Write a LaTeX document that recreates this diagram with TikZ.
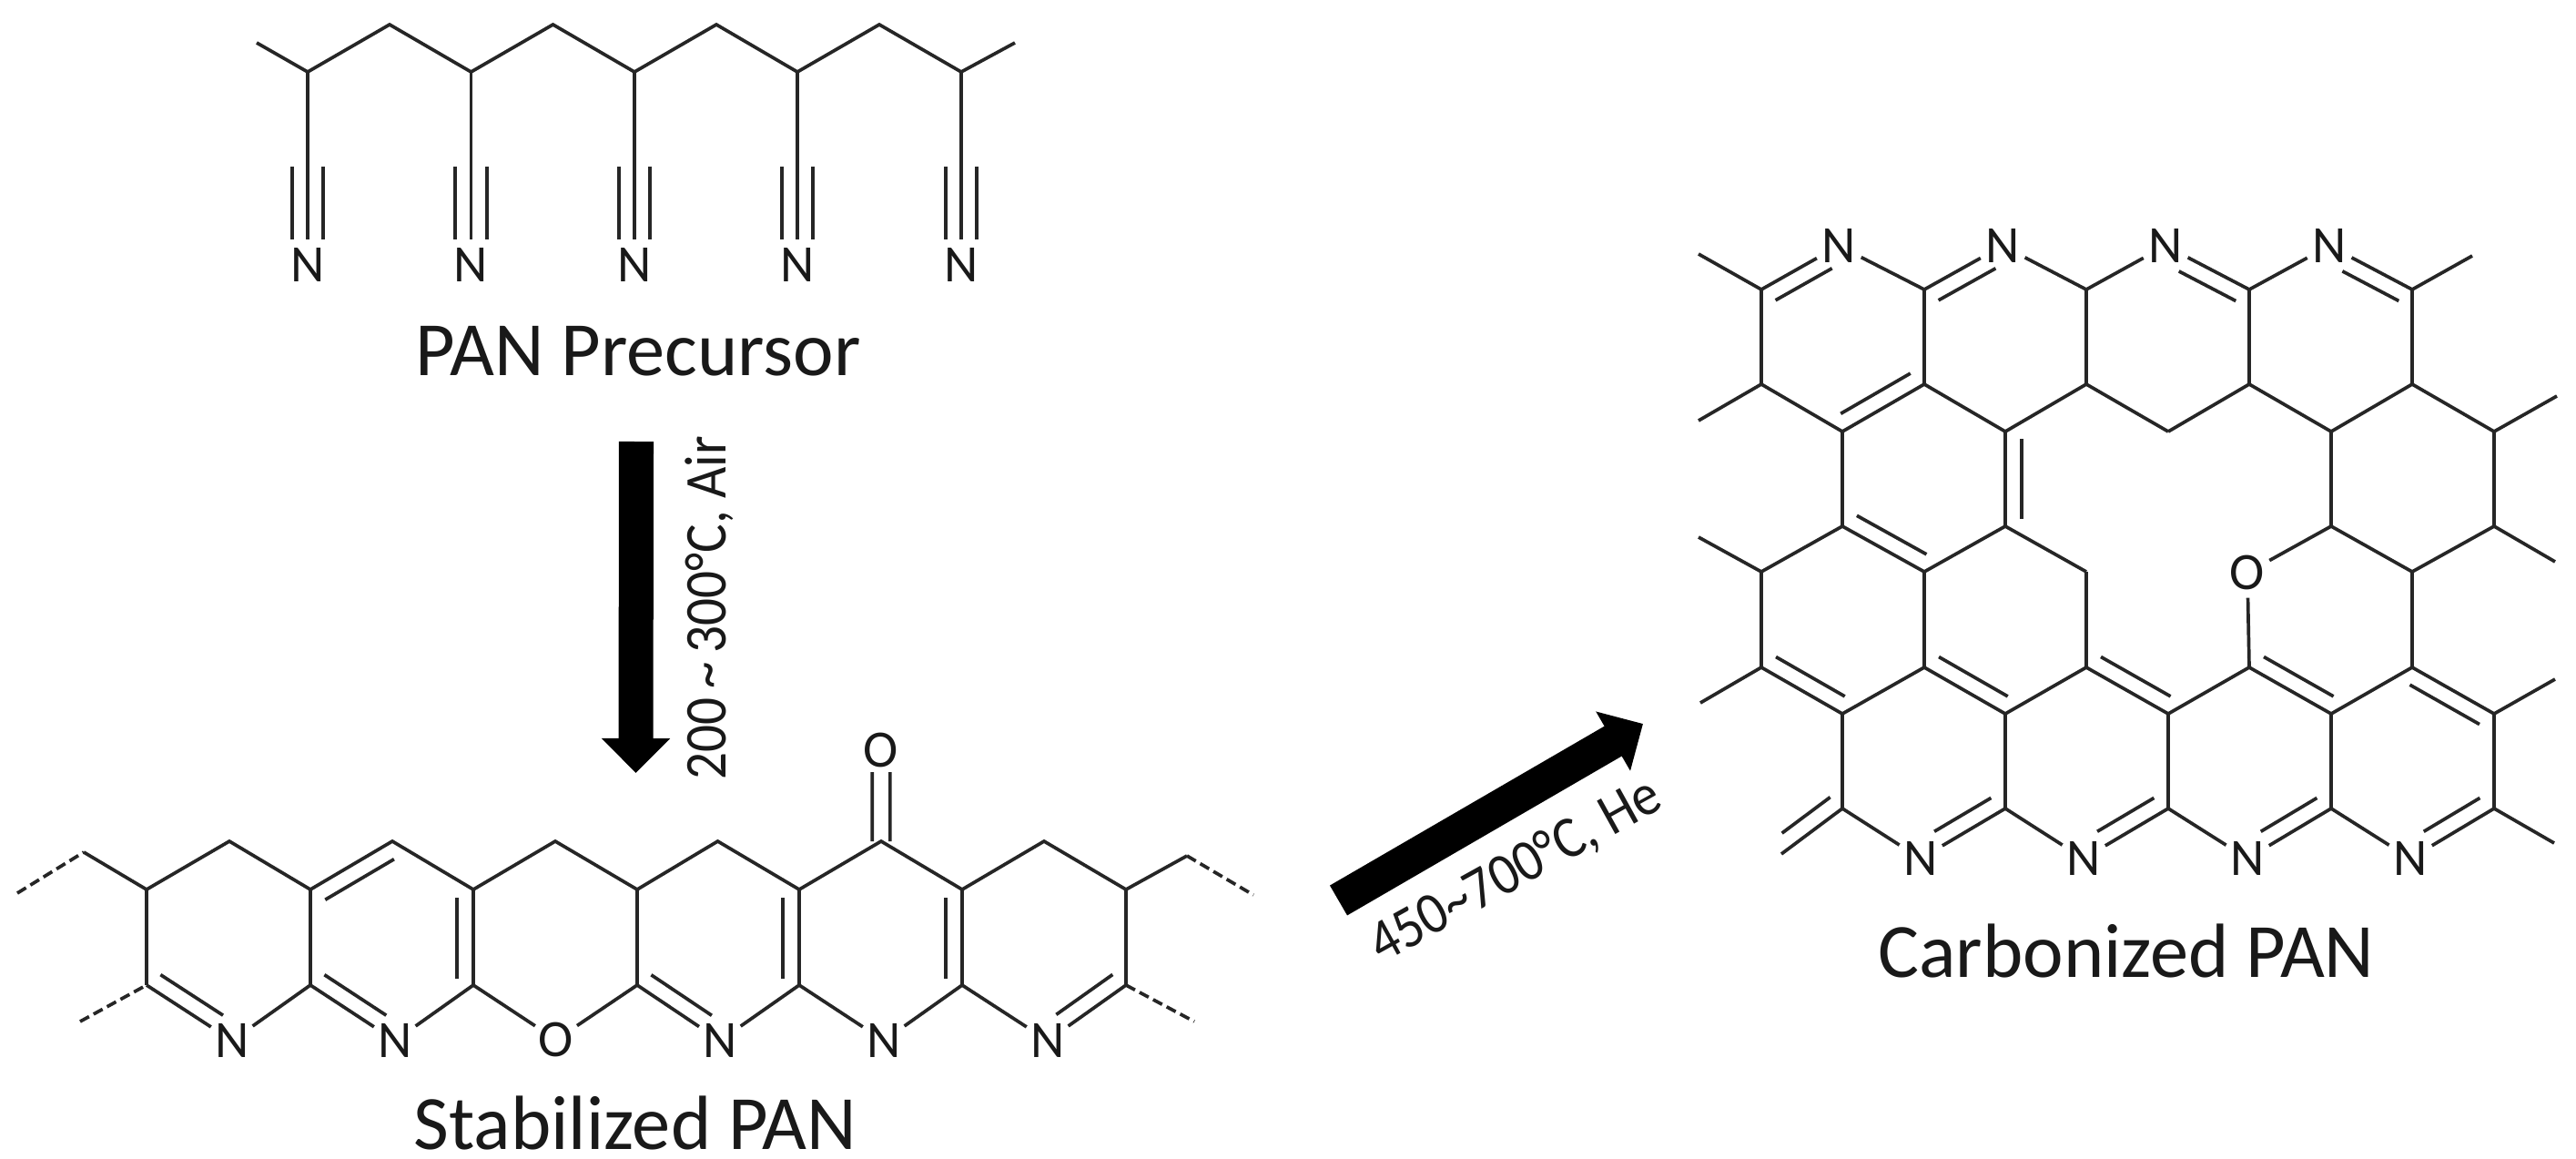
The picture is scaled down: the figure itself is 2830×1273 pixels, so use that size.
\documentclass[tikz,border=0pt]{standalone}
\usepackage{fontspec}
\setmainfont{Carlito}
\usetikzlibrary{calc,arrows.meta}
\newcommand{\innerline}[4]{\draw[bond] ($(#1)!#3!(#2)!5.1pt!90:(#2)$) -- ($(#1)!#4!(#2)!5.1pt!90:(#2)$);}
\newcommand{\offsetline}[5]{\draw[bond] ($(#1)!#3!(#2)!#5!90:(#2)$) -- ($(#1)!#4!(#2)!#5!90:(#2)$);}
\tikzset{
  bond/.style={draw=black!85,line width=1.05pt,line cap=butt,line join=miter},
  dashbond/.style={bond,dash pattern=on 3.2pt off 1.6pt},
  atom/.style={circle,inner sep=0pt,minimum size=0.54cm,font=\fontsize{16.4}{18}\selectfont,text=black!90},
  title/.style={font=\fontsize{24}{28}\selectfont,text=black!90,inner sep=0pt},
  cond/.style={font=\fontsize{18.5}{22}\selectfont,text=black!90,inner sep=0pt},
  bigarrow/.style={draw=black,line width=38*0.2845pt,-{Triangle[length=38*0.2845pt,width=73*0.2845pt]},shorten >=0pt}
}
\begin{document}
\begin{tikzpicture}[x=0.01cm,y=-0.01cm]
\useasboundingbox (0,0) rectangle (2830,1273);
\fill[white] (0,0) rectangle (2830,1273);

% ---------- PAN precursor
\coordinate (pe0) at (282,47);
\coordinate (pe1) at (1115,47);
\foreach \n/\x in {1/338,2/517.5,3/697,4/876,5/1056}{
  \coordinate (pl\n) at (\x,79);
  \node[atom] (pn\n) at (\x,291) {N};
}
\foreach \n/\x in {1/428,2/607.5,3/787,4/966}{\coordinate (ph\n) at (\x,27);}
\draw[bond] (pe0) -- (pl1) -- (ph1) -- (pl2) -- (ph2) -- (pl3) -- (ph3) -- (pl4) -- (ph4) -- (pl5) -- (pe1);
\foreach \n in {1,...,5}{
  \draw[bond] (pl\n) -- (pn\n);
  \offsetline{pl\n}{pn\n}{.49}{.87}{4.9pt}
  \offsetline{pl\n}{pn\n}{.49}{.87}{-4.9pt}
}
\node[title] (t1) at (701,386) {PAN Precursor};

% ---------- arrow 1
\coordinate (a1s) at (699,485);
\coordinate (a1e) at (698.5,849);
\draw[bigarrow] (a1s) -- (a1e);
\node[cond,rotate=90,xscale=.91] (l1) at (779,668) {200\,\textasciitilde\,300°C, Air};

% ---------- stabilized PAN
\foreach \n/\x in {a/161,c/341,e/520,g/700,i/878,k/1057,m/1237}{
  \coordinate (s\n u) at (\x,977);
  \coordinate (s\n d) at (\x,1082);
}
\foreach \n/\x in {b/252,d/431,f/610,h/788.5,j/968,l/1147}{\coordinate (s\n t) at (\x,924);}
\coordinate (sL1) at (92,936);
\coordinate (sL0) at (19,981);
\coordinate (sL2) at (88,1122);
\coordinate (sR1) at (1304,940);
\coordinate (sR0) at (1377,983);
\coordinate (sR2) at (1312,1122);
\node[atom] (sN1) at (255,1143) {N};
\node[atom] (sN2) at (434,1143) {N};
\node[atom] (sO1) at (611,1142) {O};
\node[atom] (sN3) at (791,1143) {N};
\node[atom] (sN4) at (971,1143) {N};
\node[atom] (sN5) at (1151,1143) {N};
\node[atom] (sO2) at (968,824) {O};
\draw[bond] (sL1) -- (sau) -- (sbt) -- (scu) -- (sdt) -- (seu) -- (sft) -- (sgu) -- (sht) -- (siu) -- (sjt) -- (sku) -- (slt) -- (smu) -- (sR1);
\draw[dashbond] (sL0) -- (sL1);
\draw[dashbond] (sL2) -- (sad);
\draw[dashbond] (sR1) -- (sR0);
\draw[dashbond] (smd) -- (sR2);
\foreach \n in {a,c,e,g,i,k,m}{\draw[bond] (s\n u) -- (s\n d);}
\foreach \a/\b in {sad/sN1,sN1/scd,scd/sN2,sN2/sed,sed/sO1,sO1/sgd,sgd/sN3,sN3/sid,sid/sN4,sN4/skd,skd/sN5,sN5/smd}{\draw[bond] (\a) -- (\b);}
\innerline{sad}{sN1}{.06}{.79}
\innerline{scd}{sN2}{.06}{.79}
\innerline{sgd}{sN3}{.06}{.79}
\innerline{sdt}{scu}{.08}{.92}
\innerline{sed}{seu}{.07}{.91}
\innerline{sid}{siu}{.07}{.91}
\innerline{skd}{sku}{.07}{.91}
\innerline{sN5}{smd}{.23}{.95}
\offsetline{sjt}{sO2}{0}{.76}{2.8pt}
\offsetline{sjt}{sO2}{0}{.76}{-2.8pt}
\node[title] (t2) at (698,1233) {Stabilized PAN};

% ---------- arrow 2
\coordinate (a2s) at (1470.5,989);
\coordinate (a2e) at (1805,795);
\draw[bigarrow] (a2s) -- (a2e);
\node[cond,rotate=29,xscale=.91] (l2) at (1665,957) {450\textasciitilde 700°C, He};

% ---------- carbonized PAN
\foreach \c/\x in {A/1935,B/2024,C/2114,D/2203,E/2292,F/2382,G/2471,H/2561,I/2650,J/2740}{
  \foreach \r/\y in {1/318,2/422,3/474,4/578,5/628,6/733,7/784,8/888}{
    \coordinate (c\c\r) at (\x,\y);
  }
}
\coordinate (xA1) at (1866,279);
\coordinate (xA2) at (1866,462);
\coordinate (xA5) at (1866,590);
\coordinate (xA6) at (1868,772);
\coordinate (xI1) at (2716,281);
\coordinate (xJ3) at (2809,435);
\coordinate (xJ4) at (2807,617);
\coordinate (xJ7) at (2807,746);
\coordinate (xJ8) at (2806,926);
\coordinate (xB8) at (1957,938);
\node[atom] (cN1) at (2020,270) {N};
\node[atom] (cN2) at (2200,270) {N};
\node[atom] (cN3) at (2379,270) {N};
\node[atom] (cN4) at (2559,270) {N};
\node[atom] (cN5) at (2110,943) {N};
\node[atom] (cN6) at (2289,943) {N};
\node[atom] (cN7) at (2469,943) {N};
\node[atom] (cN8) at (2648,943) {N};
\node[atom] (cO) at (2469,629) {O};
\foreach \a/\b in {
  xA1/cA1,cA1/cN1,cN1/cC1,cC1/cN2,cN2/cE1,cE1/cN3,cN3/cG1,cG1/cN4,cN4/cI1,cI1/xI1,
  cA1/cA2,cC1/cC2,cE1/cE2,cG1/cG2,cI1/cI2,
  xA2/cA2,cA2/cB3,cB3/cC2,cC2/cD3,cD3/cE2,cE2/cF3,cF3/cG2,cG2/cH3,cH3/cI2,cI2/cJ3,cJ3/xJ3,
  cB3/cB4,cD3/cD4,cH3/cH4,cJ3/cJ4,
  xA5/cA5,cA5/cB4,cB4/cC5,cC5/cD4,cD4/cE5,cH4/cO,cH4/cI5,cI5/cJ4,cJ4/xJ4,
  cA5/cA6,cC5/cC6,cE5/cE6,cO/cG6,cI5/cI6,
  xA6/cA6,cA6/cB7,cB7/cC6,cC6/cD7,cD7/cE6,cE6/cF7,cF7/cG6,cG6/cH7,cH7/cI6,cI6/cJ7,cJ7/xJ7,
  cB7/cB8,cD7/cD8,cF7/cF8,cH7/cH8,cJ7/cJ8,
  xB8/cB8,cB8/cN5,cN5/cD8,cD8/cN6,cN6/cF8,cF8/cN7,cN7/cH8,cH8/cN8,cN8/cJ8,cJ8/xJ8}{
  \draw[bond] (\a) -- (\b);
}
\innerline{cN1}{cA1}{.19}{.92}
\innerline{cN2}{cC1}{.19}{.92}
\innerline{cG1}{cN3}{.07}{.75}
\innerline{cI1}{cN4}{.07}{.75}
\innerline{cB3}{cC2}{.08}{.93}
\innerline{cD3}{cD4}{.08}{.92}
\innerline{cB4}{cC5}{.08}{.93}
\innerline{cA6}{cB7}{.08}{.93}
\innerline{cC6}{cD7}{.08}{.93}
\innerline{cE6}{cF7}{.08}{.93}
\innerline{cG6}{cH7}{.08}{.93}
\innerline{cJ7}{cI6}{.08}{.93}
\innerline{xB8}{cB8}{.17}{.96}
\innerline{cN5}{cD8}{.26}{.93}
\innerline{cN6}{cF8}{.26}{.93}
\innerline{cN7}{cH8}{.26}{.93}
\innerline{cN8}{cJ8}{.26}{.93}
\node[title] (t3) at (2336,1044) {Carbonized PAN};
\end{tikzpicture}
\end{document}
